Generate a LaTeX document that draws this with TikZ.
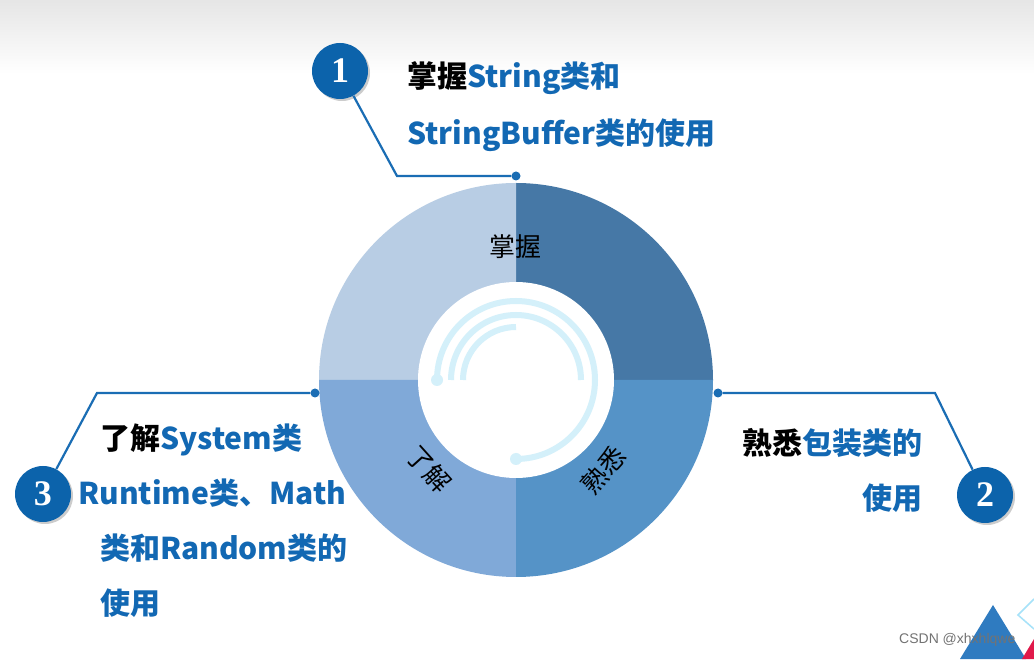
\documentclass[tikz,border=0pt]{standalone}
\usepackage{fontspec}
\usepackage{tikz}
\usetikzlibrary{positioning, calc}
\newfontfamily\cjk{Noto Sans CJK SC}
\newfontfamily\numfont{Liberation Serif}
\setsansfont{Liberation Sans}
\definecolor{deepblue}{HTML}{0C63AB}
\definecolor{textblue}{HTML}{1268B3}
\definecolor{linkblue}{HTML}{1A6DB4}
\definecolor{ringA}{HTML}{4678A6}
\definecolor{ringB}{HTML}{B8CDE4}
\definecolor{ringC}{HTML}{80A9D8}
\definecolor{ringD}{HTML}{5593C7}
\definecolor{arcblue}{HTML}{D4F0FA}
\definecolor{cornerblue}{HTML}{2F7BC0}
\definecolor{cornerred}{HTML}{E0194A}

\begin{document}
\begin{tikzpicture}[x=1pt, y=1pt,
  badge/.style={circle, fill=deepblue, minimum size=56pt, inner sep=0pt, text=white, font=\numfont\bfseries\fontsize{36}{36}\selectfont},
  joint/.style={circle, fill=linkblue, minimum size=9pt, inner sep=0pt},
  link/.style={draw=linkblue, line width=2.2pt},
  item/.style={font=\cjk\bfseries\fontsize{30}{36}\selectfont, text=textblue, inner sep=0pt},
  sector/.style={font=\cjk\fontsize{26}{30}\selectfont, inner sep=0pt},
  track/.style={draw=arcblue, line width=6pt}
]
\useasboundingbox (0,0) rectangle (1034,659);
\fill[white] (0,0) rectangle (1034,659);
\shade[top color=black!10, bottom color=white] (0,585) rectangle (1034,659);

\coordinate (o) at (516,279);
\fill[ringA] (o) -- ++(0:197) arc[start angle=0, end angle=90, radius=197] -- cycle;
\fill[ringB] (o) -- ++(90:197) arc[start angle=90, end angle=180, radius=197] -- cycle;
\fill[ringC] (o) -- ++(180:197) arc[start angle=180, end angle=270, radius=197] -- cycle;
\fill[ringD] (o) -- ++(270:197) arc[start angle=270, end angle=360, radius=197] -- cycle;
\fill[white] (o) circle[radius=98];

\draw[track] ($(o)+(180:79)$) arc[start angle=180, end angle=-90, radius=79];
\draw[track] ($(o)+(180:65)$) arc[start angle=180, end angle=0, radius=65];
\draw[track] ($(o)+(180:53)$) arc[start angle=180, end angle=90, radius=53];
\fill[arcblue] ($(o)+(180:79)$) circle[radius=6];
\fill[arcblue] ($(o)+(270:79)$) circle[radius=6];

\node[sector] (s1) at (515,412) {掌握};
\node[sector, rotate=-48] (s3) at (429,190) {了解};
\node[sector, rotate=48] (s2) at (603,189) {熟悉};

\fill[black!20] (342,586) circle[radius=28];
\fill[black!20] (987,162) circle[radius=28];
\fill[black!20] (45,163) circle[radius=28];
\node[badge] (c1) at (340,588) {1};
\node[badge] (c2) at (985,164) {2};
\node[badge] (c3) at (43,165) {3};

\node[joint] (d1) at (516,483) {};
\node[joint] (d2) at (718,266) {};
\node[joint] (d3) at (315,266) {};
\coordinate (k1) at (397,483);
\coordinate (k2) at (935,266);
\coordinate (k3) at (97,266);
\draw[link] (c1) -- (k1) -- (d1);
\draw[link] (c2) -- (k2) -- (d2);
\draw[link] (c3) -- (k3) -- (d3);

\node[item, anchor=base west] (t1a) at (407,571) {{\color{black}掌握}String类和};
\node[item, anchor=base west] (t1b) at (407,514) {StringBuffer类的使用};
\node[item, anchor=base east] (t2a) at (923,204) {{\color{black}熟悉}包装类的};
\node[item, anchor=base east] (t2b) at (923,149) {使用};
\node[item, anchor=base west] (t3a) at (100,209) {{\color{black}了解}System类};
\node[item, anchor=base west] (t3b) at (78,154) {Runtime类、Math};
\node[item, anchor=base west] (t3c) at (100,99) {类和Random类的};
\node[item, anchor=base west] (t3d) at (100,44) {使用};

\fill[cornerblue] (993,54) -- (960,0) -- (1026,0) -- cycle;
\fill[cornerred] (1022,0) -- (1034,20) -- (1034,0) -- cycle;
\draw[cyan!35, line width=1.5pt] (1034,60) -- (1018,44) -- (1034,30);
\node[font=\sffamily\fontsize{14}{14}\selectfont, text=black!55, anchor=west, inner sep=0pt] (mark) at (899,19) {CSDN @xhxhlqwe};
\end{tikzpicture}
\end{document}
